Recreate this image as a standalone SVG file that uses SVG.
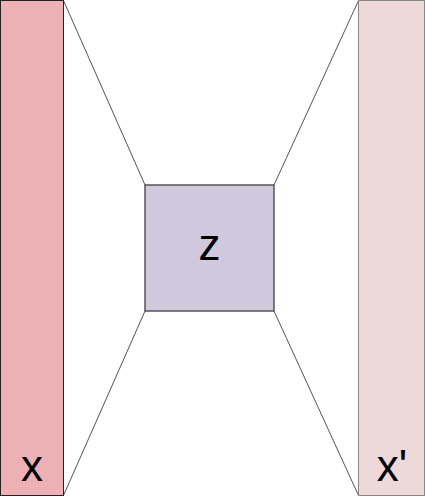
<svg xmlns="http://www.w3.org/2000/svg" width="425" height="497" viewBox="0 0 425 497">
<style>
.lbl{font-family:"Liberation Sans",Arial,sans-serif;font-size:44px;fill:#000;text-anchor:middle}
.conn line{stroke:#555;stroke-width:1}
</style>
<rect width="425" height="497" fill="#fff"/>
<g class="conn">
<line x1="63.5" y1="0.5" x2="145" y2="185"/>
<line x1="63.5" y1="495.5" x2="145" y2="311"/>
<line x1="358.5" y1="0.5" x2="274" y2="185"/>
<line x1="358.5" y1="495.5" x2="274" y2="311"/>
</g>
<g id="x">
<rect x="0.5" y="0.5" width="63" height="495" fill="#EDB1B5" stroke="#222" stroke-width="1"/>
<text class="lbl" x="32" y="481">x</text>
</g>
<g id="z">
<rect x="145" y="185" width="129" height="126" fill="#D0C9DD" stroke="#555" stroke-width="1.5"/>
<text class="lbl" x="209.5" y="260">z</text>
</g>
<g id="xprime">
<rect x="358.5" y="0.5" width="66" height="495" fill="#EDD9D9" stroke="#888" stroke-width="1"/>
<text class="lbl" x="392" y="481">x'</text>
</g>
</svg>
